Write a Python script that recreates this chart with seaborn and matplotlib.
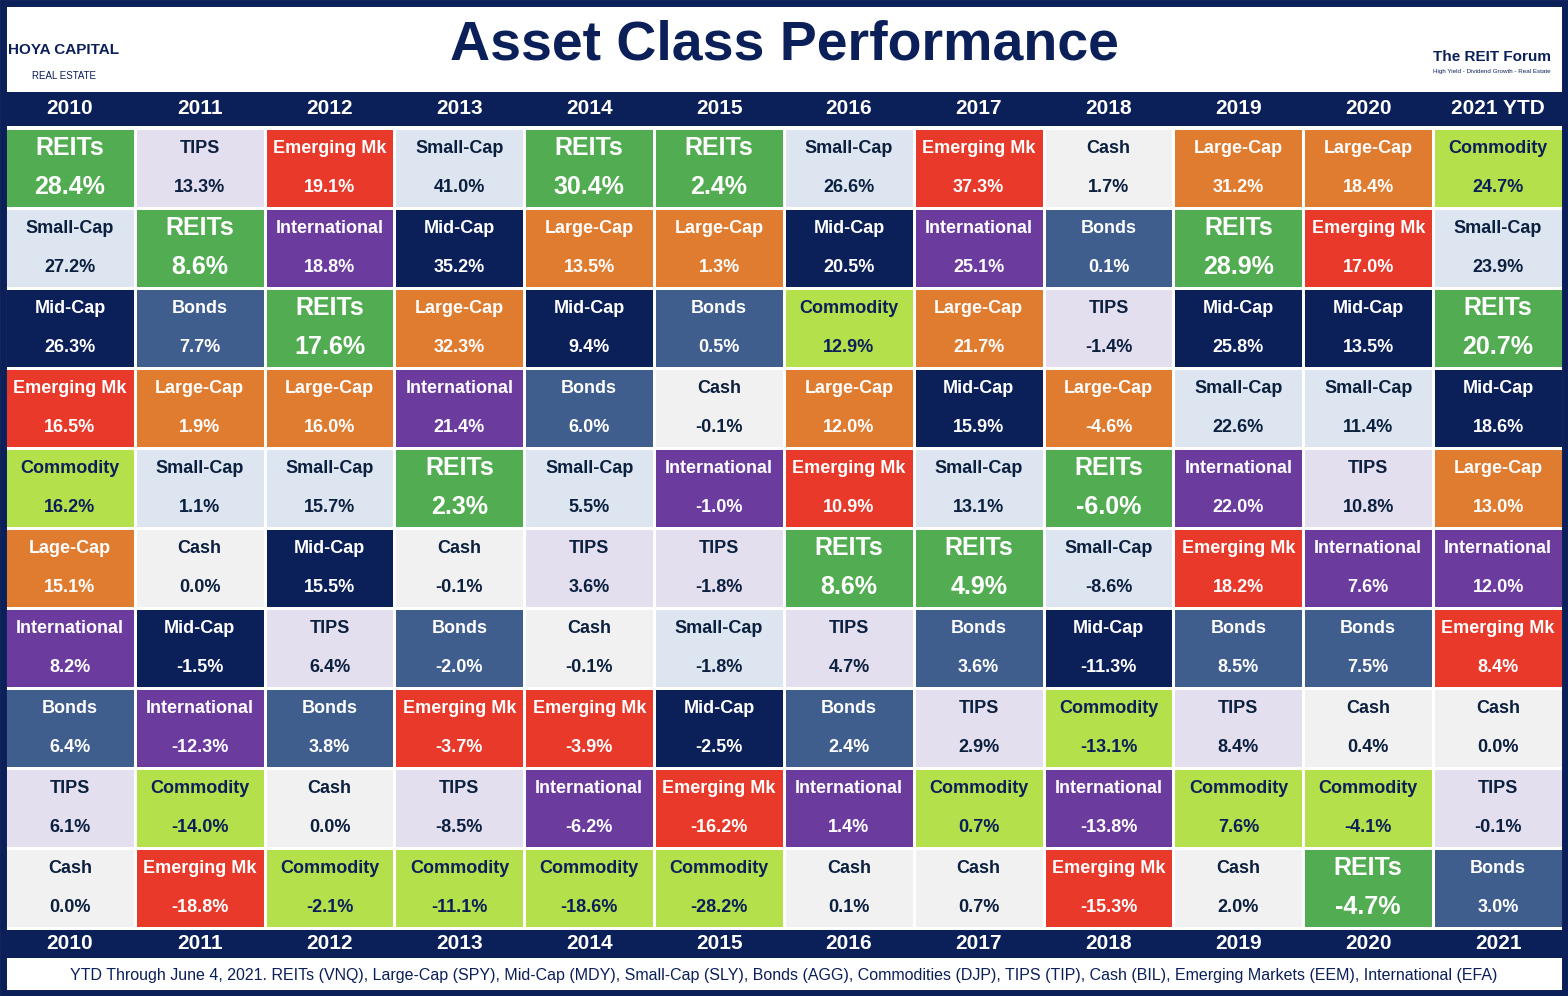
import matplotlib
matplotlib.use("Agg")
import matplotlib.pyplot as plt
from matplotlib.colors import ListedColormap
from matplotlib.patches import Rectangle
import seaborn as sns
import numpy as np

years = ["2010", "2011", "2012", "2013", "2014", "2015", "2016", "2017", "2018", "2019", "2020", "2021 YTD"]
years_bottom = ["2010", "2011", "2012", "2013", "2014", "2015", "2016", "2017", "2018", "2019", "2020", "2021"]

labels = [
    ["REITs", "Small-Cap", "Mid-Cap", "Emerging Mk", "Commodity", "Lage-Cap", "International", "Bonds", "TIPS", "Cash"],
    ["TIPS", "REITs", "Bonds", "Large-Cap", "Small-Cap", "Cash", "Mid-Cap", "International", "Commodity", "Emerging Mk"],
    ["Emerging Mk", "International", "REITs", "Large-Cap", "Small-Cap", "Mid-Cap", "TIPS", "Bonds", "Cash", "Commodity"],
    ["Small-Cap", "Mid-Cap", "Large-Cap", "International", "REITs", "Cash", "Bonds", "Emerging Mk", "TIPS", "Commodity"],
    ["REITs", "Large-Cap", "Mid-Cap", "Bonds", "Small-Cap", "TIPS", "Cash", "Emerging Mk", "International", "Commodity"],
    ["REITs", "Large-Cap", "Bonds", "Cash", "International", "TIPS", "Small-Cap", "Mid-Cap", "Emerging Mk", "Commodity"],
    ["Small-Cap", "Mid-Cap", "Commodity", "Large-Cap", "Emerging Mk", "REITs", "TIPS", "Bonds", "International", "Cash"],
    ["Emerging Mk", "International", "Large-Cap", "Mid-Cap", "Small-Cap", "REITs", "Bonds", "TIPS", "Commodity", "Cash"],
    ["Cash", "Bonds", "TIPS", "Large-Cap", "REITs", "Small-Cap", "Mid-Cap", "Commodity", "International", "Emerging Mk"],
    ["Large-Cap", "REITs", "Mid-Cap", "Small-Cap", "International", "Emerging Mk", "Bonds", "TIPS", "Commodity", "Cash"],
    ["Large-Cap", "Emerging Mk", "Mid-Cap", "Small-Cap", "TIPS", "International", "Bonds", "Cash", "Commodity", "REITs"],
    ["Commodity", "Small-Cap", "REITs", "Mid-Cap", "Large-Cap", "International", "Emerging Mk", "Cash", "TIPS", "Bonds"],
]
values = [
    [28.4, 27.2, 26.3, 16.5, 16.2, 15.1, 8.2, 6.4, 6.1, 0.0],
    [13.3, 8.6, 7.7, 1.9, 1.1, 0.0, -1.5, -12.3, -14.0, -18.8],
    [19.1, 18.8, 17.6, 16.0, 15.7, 15.5, 6.4, 3.8, 0.0, -2.1],
    [41.0, 35.2, 32.3, 21.4, 2.3, -0.1, -2.0, -3.7, -8.5, -11.1],
    [30.4, 13.5, 9.4, 6.0, 5.5, 3.6, -0.1, -3.9, -6.2, -18.6],
    [2.4, 1.3, 0.5, -0.1, -1.0, -1.8, -1.8, -2.5, -16.2, -28.2],
    [26.6, 20.5, 12.9, 12.0, 10.9, 8.6, 4.7, 2.4, 1.4, 0.1],
    [37.3, 25.1, 21.7, 15.9, 13.1, 4.9, 3.6, 2.9, 0.7, 0.7],
    [1.7, 0.1, -1.4, -4.6, -6.0, -8.6, -11.3, -13.1, -13.8, -15.3],
    [31.2, 28.9, 25.8, 22.6, 22.0, 18.2, 8.5, 8.4, 7.6, 2.0],
    [18.4, 17.0, 13.5, 11.4, 10.8, 7.6, 7.5, 0.4, -4.1, -4.7],
    [24.7, 23.9, 20.7, 18.6, 13.0, 12.0, 8.4, 0.0, -0.1, 3.0],
]

classes = ["REITs", "Small-Cap", "Mid-Cap", "Emerging Mk", "Commodity", "Large-Cap",
           "International", "Bonds", "TIPS", "Cash"]
fills = ["#52AD52", "#DCE5F0", "#0B1F59", "#E8392B", "#B3E04B", "#E07C30",
         "#6B3B9E", "#3F5E8E", "#E3DFEE", "#F1F1F1"]
inks = ["white", "#0B1F3F", "white", "white", "#0B1F59", "white",
        "white", "white", "#0B1F3F", "#0B1F3F"]
navy = "#0B1F59"

def cls(name):
    return "Large-Cap" if name == "Lage-Cap" else name

codes = np.array([[classes.index(cls(labels[c][r])) for c in range(12)] for r in range(10)])

W, H = 1568, 996
fig = plt.figure(figsize=(W / 100, H / 100), dpi=100)
fig.patch.set_facecolor("white")
fam = ["Liberation Sans", "DejaVu Sans"]

def fx(px):
    return px / W

def fy(py):
    return 1 - py / H

# outer frame and navy bars, kept beneath the axes
fig.patches.append(Rectangle((0.002, 0.003), 0.996, 0.994, transform=fig.transFigure,
                             fc="none", ec=navy, lw=5, zorder=0))
fig.patches.append(Rectangle((fx(4), fy(126)), fx(1560), 34 / H, transform=fig.transFigure,
                             fc=navy, ec="none", zorder=0))
fig.patches.append(Rectangle((fx(4), fy(958)), fx(1560), 28 / H, transform=fig.transFigure,
                             fc=navy, ec="none", zorder=0))

ax = fig.add_axes([fx(5), fy(928), fx(1558), 800 / H])
sns.heatmap(codes, cmap=ListedColormap(fills), vmin=-0.5, vmax=9.5, cbar=False,
            linewidths=2, linecolor="white", ax=ax)
ax.set_xticks([])
ax.set_yticks([])

for c in range(12):
    for r in range(10):
        name = labels[c][r]
        k = codes[r, c]
        big = name == "REITs"
        ax.text(c + 0.5, r + 0.25, name, ha="center", va="center", color=inks[k],
                fontsize=18 if big else 13, fontweight="bold", family=fam)
        ax.text(c + 0.5, r + 0.74, f"{values[c][r]:.1f}%", ha="center", va="center", color=inks[k],
                fontsize=18 if big else 13, fontweight="bold", family=fam)

cw = 1558 / 12
for c in range(12):
    x = fx(5 + cw * (c + 0.5))
    fig.text(x, fy(109), years[c], ha="center", va="center", color="white",
             fontsize=15, fontweight="bold", family=fam)
    fig.text(x, fy(943), years_bottom[c], ha="center", va="center", color="white",
             fontsize=15, fontweight="bold", family=fam)

fig.text(0.5, fy(46), "Asset Class Performance", ha="center", va="center", color=navy,
         fontsize=40, fontweight="bold", family=fam)
fig.text(fx(64), fy(50), "HOYA CAPITAL", ha="center", va="center", color=navy,
         fontsize=11, fontweight="bold", family=fam)
fig.text(fx(64), fy(76), "REAL ESTATE", ha="center", va="center", color=navy,
         fontsize=7, family=fam)
fig.text(fx(1492), fy(57), "The REIT Forum", ha="center", va="center", color=navy,
         fontsize=11, fontweight="bold", family=fam)
fig.text(fx(1492), fy(72), "High Yield - Dividend Growth - Real Estate", ha="center", va="center",
         color=navy, fontsize=4.5, family=fam)
fig.text(0.5, fy(975), "YTD Through June 4, 2021. REITs (VNQ), Large-Cap (SPY), Mid-Cap (MDY), "
         "Small-Cap (SLY), Bonds (AGG), Commodities (DJP), TIPS (TIP), Cash (BIL), "
         "Emerging Markets (EEM), International (EFA)", ha="center", va="center",
         color=navy, fontsize=11.5, family=fam)

fig.savefig("out.png", dpi=100)
